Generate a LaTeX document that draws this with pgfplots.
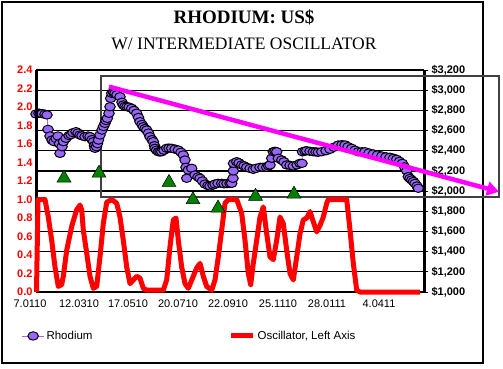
\documentclass[border=0pt]{standalone}
\usepackage{pgfplots}
\pgfplotsset{compat=1.18}
\usepackage{fontspec}
\setmainfont{Liberation Sans}
\newfontfamily\timesfont{Liberation Serif}
\usetikzlibrary{arrows.meta}
\definecolor{rhod}{RGB}{153,102,255}
\definecolor{osc}{RGB}{255,0,0}
\definecolor{tri}{RGB}{0,128,0}
\definecolor{mag}{RGB}{255,0,255}
\definecolor{boxgray}{RGB}{64,64,64}

\pgfplotstableread{
x price
0 2764
3 2772
6 2768
9 2762
11 2755
12 2612
14 2546
16 2505
18 2490
20 2520
22 2546
23.5 2470
24 2374
26 2440
27.5 2490
30 2523
33 2550
35 2560
37 2579
40 2589
42 2575
44 2556
46 2548
49 2539
52 2546
54 2540
56 2510
57.5 2490
58.5 2450
59 2424
60.5 2440
61.5 2470
62.5 2506
64 2556
66 2605
67.5 2640
69 2672
70 2700
71.3 2721
73 2771
74 2836
74.7 2919
75.7 2969
77.5 2978
79 2970
81 2955
84 2935
86 2880
87.3 2853
89 2840
91 2836
93 2832
95.7 2820
98 2800
100.7 2771
102.5 2730
104 2688
106 2660
107.3 2638
109 2620
110.7 2605
112.5 2575
114 2539
116 2510
117.3 2490
118.5 2450
119 2424
120.5 2405
122.3 2390
124 2388
125.7 2390
128 2405
130.7 2424
133 2426
135.7 2424
139 2416
142.3 2407
145 2385
147.3 2358
149 2308
150 2236
150.7 2127
152.3 2209
155.7 2226
159 2160
162 2140
164 2127
166.5 2100
169 2070
172 2055
174 2050
177 2060
179 2070
182 2077
185.7 2077
188 2072
191 2075
194 2076
195.7 2077
197 2127
197.3 2200
197.5 2275
200.7 2291
203 2280
205.7 2259
208 2250
210.7 2236
214 2225
217.3 2216
220 2225
224 2236
227 2236
230.7 2236
232.5 2250
234 2259
235.7 2325
237.3 2390
239 2395
240.7 2390
242.3 2325
245.7 2308
248 2290
250.7 2259
254 2255
257.3 2249
261 2260
264 2275
266 2275
266.5 2390
269 2397
270.7 2400
274 2395
277.3 2390
280 2388
282.3 2385
285.7 2390
290 2400
294 2414
298 2435
302.3 2457
306 2460
309 2457
312 2440
315.7 2424
319 2405
322.3 2390
326 2390
329 2390
333 2378
337.3 2368
341.5 2358
345.7 2348
350 2340
354 2335
357.5 2325
360.7 2315
363.5 2295
366.3 2275
368.5 2240
370.7 2202
372.3 2143
374 2125
375.7 2110
377.5 2095
379 2077
381 2050
382.3 2028
}\rhodium

\pgfplotstableread{
x osc
0.5 0.0
2 1.0
9 1.0
12.3 0.81
15.7 0.56
19 0.27
22.3 0.06
25.7 0.08
27.3 0.17
30.7 0.45
35.7 0.71
40.7 0.89
44 0.94
45.7 0.89
47.3 0.67
50.7 0.42
54 0.17
57.3 0.04
60.7 0.06
64 0.38
67.3 0.74
70.7 0.97
75.7 1.0
80.7 0.96
84 0.81
87.3 0.56
90.7 0.27
94 0.09
97.3 0.13
100.7 0.17
104 0.15
107.3 0.04
110.7 0.02
127.3 0.02
130.7 0.13
134 0.49
137.3 0.78
140 0.80
142.3 0.56
145.7 0.27
149 0.09
152.3 0.04
157.3 0.17
160.7 0.26
164 0.31
167.3 0.17
170.7 0.06
175.7 0.02
179 0.13
182.3 0.38
185.7 0.67
189 0.96
192.3 1.0
200.7 1.0
205.7 0.85
209 0.56
212.3 0.20
214.7 0.08
217.3 0.31
220.7 0.56
224 0.81
227.3 0.92
230.7 0.63
234 0.38
237.3 0.35
240.7 0.56
244 0.81
247.3 0.74
250.7 0.45
254 0.20
257.3 0.13
260.7 0.38
264 0.63
267.3 0.78
270.7 0.80
274 0.87
277.3 0.76
280.7 0.65
284 0.72
287.3 0.81
290.7 0.96
292.3 1.0
310.7 1.0
314 0.67
317.3 0.31
320.7 0.02
324 0.0
384 0.0
}\oscill

\pgfplotstableread{
x y
28 1.232
63 1.285
133 1.185
157 0.998
182 0.908
219.5 1.035
258 1.058
}\triangles

\tikzset{
  rhodstyle/.style={color=rhod, line width=0.8pt, mark=*, mark size=4.2pt,
    mark options={fill=rhod, draw=black, line width=1pt, xscale=1.25}},
  oscstyle/.style={color=osc, line width=5pt, line join=round}
}

\begin{document}
\begin{tikzpicture}[x=1pt,y=1pt]
\useasboundingbox (0,0) rectangle (503,368);
\draw[line width=1.2pt] (2,5) rectangle (483,366);
\node[font=\timesfont\bfseries\fontsize{19}{22}\selectfont] at (244,351) {RHODIUM: US\$};
\node[font=\timesfont\fontsize{17.5}{21}\selectfont] at (244,324) {W/ INTERMEDIATE OSCILLATOR};

% Right axis: Rhodium price
\begin{axis}[
  at={(36pt,76pt)}, anchor=south west, scale only axis,
  width=388pt, height=222pt,
  xmin=0, xmax=388, ymin=1000, ymax=3200,
  axis x line*=bottom, axis y line*=right,
  axis line style={-},
  x axis line style={line width=2pt},
  y axis line style={line width=3pt},
  clip=false,
  ytick={1000,1200,1400,1600,1800,2000,2200,2400,2600,2800,3000,3200},
  ymajorgrids, grid style={black, line width=1.3pt},
  tick align=outside, major tick length=4pt,
  ytick style={black, line width=1pt},
  yticklabel={\$\pgfmathprintnumber[fixed,1000 sep={,},assume math mode=true]{\tick}},
  yticklabel style={font=\bfseries\fontsize{11}{13}\selectfont, black},
  xtick={0,43,92,142,192,242,291,343},
  xticklabels={{\hspace*{-12pt}7.0110},12.0310,17.0510,20.0710,22.0910,25.1110,28.0111,4.0411},
  xtick style={draw=none},
  xticklabel style={font=\fontsize{11}{13}\selectfont, black},
]
\draw[boxgray, line width=1.2pt] (axis cs:65,3140) rectangle (axis cs:463,1941);
\addplot[rhodstyle] table[x=x, y=price] {\rhodium};
\end{axis}

% Left axis: oscillator
\begin{axis}[
  at={(36pt,76pt)}, anchor=south west, scale only axis,
  width=388pt, height=222pt,
  xmin=0, xmax=388, ymin=0, ymax=2.4,
  axis x line=none, axis y line*=left,
  axis line style={-},
  y axis line style={line width=3pt},
  clip=false,
  ytick={0,0.2,0.4,0.6,0.8,1.0,1.2,1.4,1.6,1.8,2.0,2.2,2.4},
  ytick style={draw=none},
  yticklabel style={osc, font=\bfseries\fontsize{11}{13}\selectfont,
    /pgf/number format/fixed, /pgf/number format/fixed zerofill,
    /pgf/number format/precision=1, /pgf/number format/assume math mode=true},
  legend columns=2,
  legend style={at={(axis description cs:-0.045,-0.198)}, anchor=west,
    draw=none, fill=none, font=\fontsize{11.5}{13}\selectfont,
    /tikz/every even column/.append style={column sep=134pt}},
  legend image code/.code={\draw[mark repeat=2,mark phase=2,#1] plot coordinates {(0pt,0pt) (11pt,0pt) (22pt,0pt)};},
]
\addlegendimage{rhodstyle}
\addlegendentry{Rhodium}
\addplot[oscstyle] table[x=x, y=osc] {\oscill};
\addlegendentry{Oscillator, Left Axis}
\addplot[only marks, mark=triangle*, mark size=8pt, mark options={fill=tri, draw=black, line width=0.5pt}, forget plot] table[x=x, y=y] {\triangles};
\addplot[mag, line width=4.5pt, -{Triangle[length=12pt,width=14pt]}, forget plot] coordinates {(73,2.22) (463,1.084)};
\end{axis}
\end{tikzpicture}
\end{document}
